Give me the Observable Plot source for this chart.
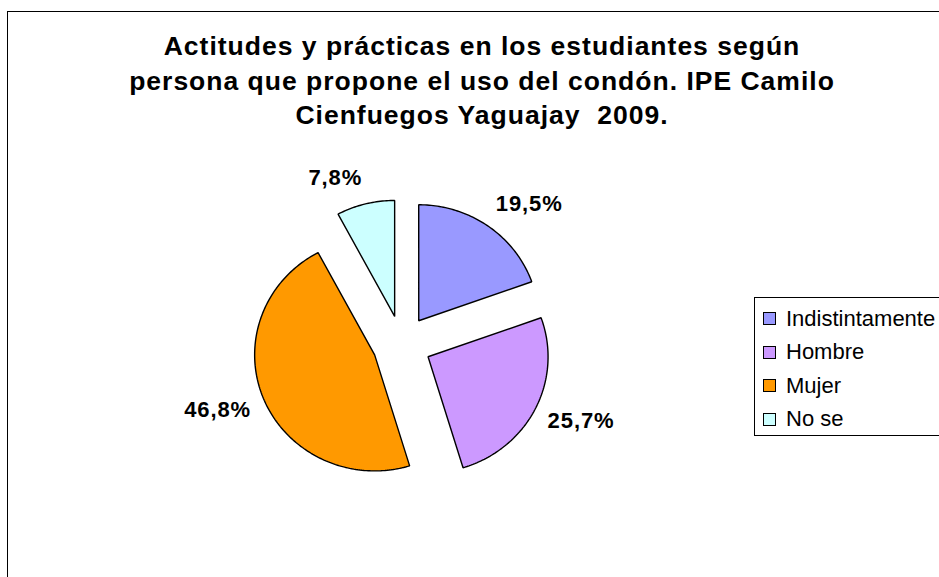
<!DOCTYPE html>
<html>
<head>
<meta charset="utf-8">
<script src="https://cdn.jsdelivr.net/npm/d3@7"></script>
<script src="https://cdn.jsdelivr.net/npm/@observablehq/plot@0.6"></script>
<style>
  html, body { margin: 0; padding: 0; background: #fff; }
  #wrap { position: relative; width: 939px; height: 577px; overflow: hidden; font-family: "Liberation Sans", Arial, sans-serif; }
  #frame { position: absolute; left: 7px; top: 11px; width: 1100px; height: 900px; border: 1.5px solid #000; box-sizing: border-box; }
  #title { position: absolute; left: 0; width: 964px; top: 29px; text-align: center; font-weight: bold; font-size: 26.5px; line-height: 34.5px; letter-spacing: 1px; color: #000; }
  #chart { position: absolute; left: 0; top: 0; }
  #chart svg text { letter-spacing: 0.9px; }
  #legend { position: absolute; left: 754px; top: 297px; width: 260px; height: 139px; border: 1px solid #000; box-sizing: border-box; background: #fff; padding-top: 4px; }
  .row { display: flex; align-items: center; height: 33.5px; font-size: 22px; color: #000; }
  .sw { width: 13px; height: 13px; border: 1px solid #000; margin-left: 8px; margin-right: 10px; box-sizing: border-box; }
</style>
</head>
<body>
<div id="wrap">
  <div id="frame"></div>
  <div id="title">Actitudes y prácticas en los estudiantes según<br>persona que propone el uso del condón. IPE Camilo<br>Cienfuegos Yaguajay&nbsp; 2009.</div>
  <div id="chart"></div>
  <div id="legend"></div>
</div>
<script>
const categories = ["Indistintamente", "Hombre", "Mujer", "No se"];
const values = [19.5, 25.7, 46.8, 7.8];
const valueLabels = ["19,5%", "25,7%", "46,8%", "7,8%"];
const colors = ["#9999FF", "#CC99FF", "#FF9900", "#CCFFFF"];

const W = 939, H = 577;
const cxPx = 401.3, cyPx = 343.5;   // pie centre in pixels
const rxPx = 120, ryPx = 116;       // pixels per unit radius
const explode = 0.245;              // slice offset, units of radius
const labelRx = 1.36, labelRy = 1.48;

const data = categories.map((c, i) => ({category: c, value: values[i], label: valueLabels[i], color: colors[i]}));
const arcs = d3.pie().sort(null).value(d => d.value).startAngle(0).endAngle(2 * Math.PI)(data);

const slices = arcs.map(a => {
  const mid = (a.startAngle + a.endAngle) / 2;
  const ox = explode * Math.sin(mid), oy = explode * Math.cos(mid);
  const pts = [{x: ox, y: oy}];
  const n = Math.max(8, Math.ceil((a.endAngle - a.startAngle) / (Math.PI / 180)));
  for (let k = 0; k <= n; k++) {
    const t = a.startAngle + (a.endAngle - a.startAngle) * k / n;
    pts.push({x: ox + Math.sin(t), y: oy + Math.cos(t)});
  }
  return {d: a.data, mid, pts};
});

const labelData = slices.map(s => ({
  x: labelRx * Math.sin(s.mid),
  y: labelRy * Math.cos(s.mid),
  label: s.d.label,
  right: Math.sin(s.mid) >= 0
}));

const marks = slices.map(s => Plot.line(s.pts, {
  x: "x", y: "y", curve: "linear-closed",
  fill: s.d.color, stroke: "#000", strokeWidth: 1.4,
  strokeLinejoin: "miter", strokeLinecap: "butt"
}));

const textOpts = {x: "x", y: "y", text: "label", fontSize: 22, fontWeight: "bold", fill: "#000", lineAnchor: "middle"};
marks.push(Plot.text(labelData.filter(d => d.right), {...textOpts, textAnchor: "start"}));
marks.push(Plot.text(labelData.filter(d => !d.right), {...textOpts, textAnchor: "end"}));

const chart = Plot.plot({
  width: W, height: H,
  margin: 0,
  x: {domain: [-cxPx / rxPx, (W - cxPx) / rxPx], range: [0, W], axis: null},
  y: {domain: [-(H - cyPx) / ryPx, cyPx / ryPx], range: [H, 0], axis: null},
  style: {background: "transparent", fontFamily: "'Liberation Sans', Arial, sans-serif", overflow: "visible"},
  marks
});
document.getElementById("chart").appendChild(chart);

const legend = document.getElementById("legend");
categories.forEach((c, i) => {
  const row = document.createElement("div");
  row.className = "row";
  const sw = document.createElement("div");
  sw.className = "sw";
  sw.style.background = colors[i];
  const tx = document.createElement("span");
  tx.textContent = c;
  row.appendChild(sw);
  row.appendChild(tx);
  legend.appendChild(row);
});
</script>
</body>
</html>
